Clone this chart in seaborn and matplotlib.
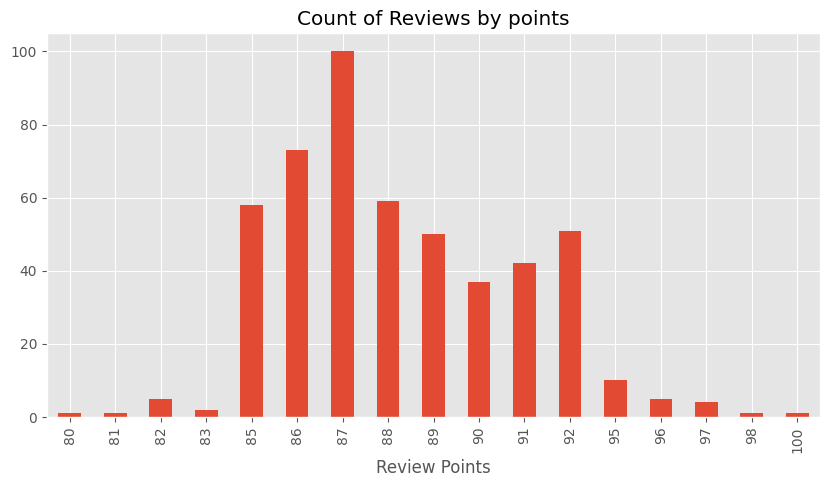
import matplotlib
matplotlib.use("Agg")
import matplotlib.pyplot as plt
import seaborn as sns

points = ["80", "81", "82", "83", "85", "86", "87", "88", "89", "90",
          "91", "92", "95", "96", "97", "98", "100"]
counts = [1, 1, 5, 2, 58, 73, 100, 59, 50, 37, 42, 51, 10, 5, 4, 1, 1]

plt.style.use("ggplot")
fig, ax = plt.subplots(figsize=(8.31, 4.87), dpi=100)
fig.subplots_adjust(left=0.0566, right=0.9868, top=0.932, bottom=0.1437)

sns.barplot(x=points, y=counts, ax=ax, color="#E24A33", saturation=1, width=0.5)
ax.set_title("Count of Reviews by points")
ax.set_xlabel("Review Points")
ax.set_ylabel("")
ax.set_ylim(0, 105)
ax.set_xlim(-0.5, len(points) - 0.5)
ax.set_yticks([0, 20, 40, 60, 80, 100])
ax.tick_params(axis="x", labelrotation=90)
ax.grid(True, axis="both", color="white")
ax.set_axisbelow(True)

fig.savefig("out.png", dpi=100)
